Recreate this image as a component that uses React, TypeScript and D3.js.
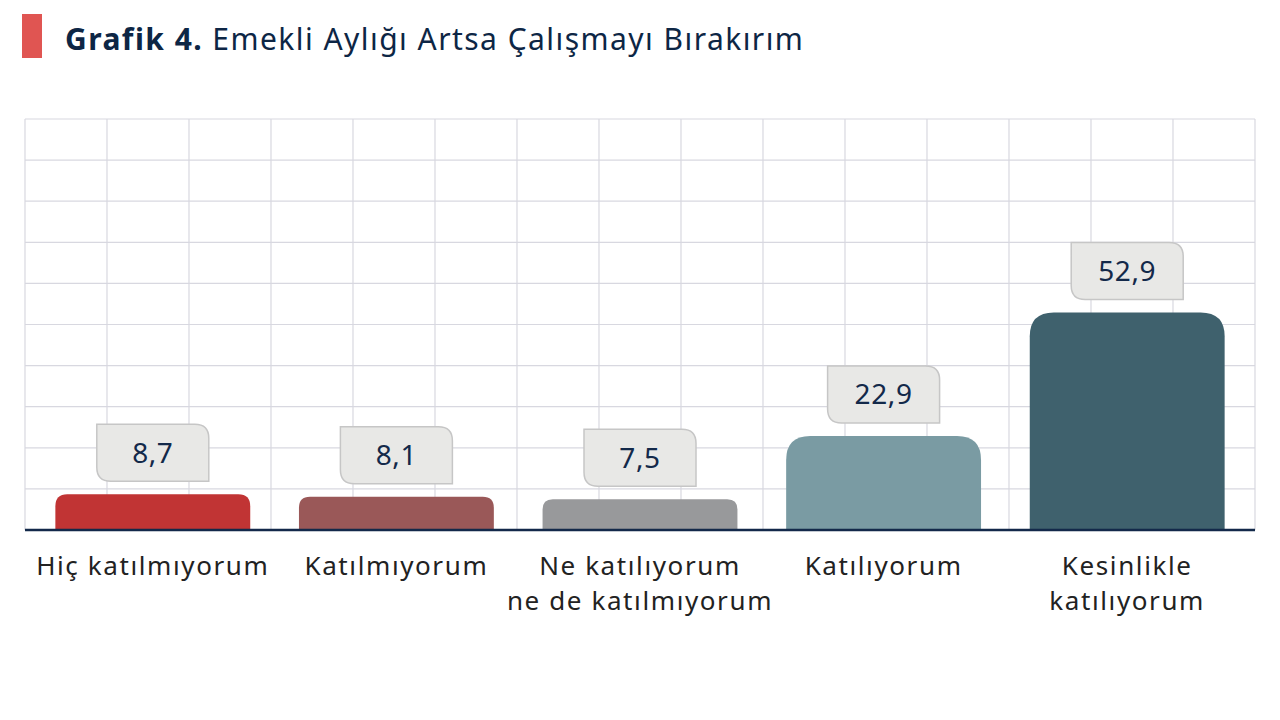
import React from "react";
import * as d3 from "d3";

const categories: string[][] = [
  ["Hiç katılmıyorum"],
  ["Katılmıyorum"],
  ["Ne katılıyorum", "ne de katılmıyorum"],
  ["Katılıyorum"],
  ["Kesinlikle", "katılıyorum"],
];
const values: number[] = [8.7, 8.1, 7.5, 22.9, 52.9];
const barColors: string[] = ["#c13434", "#9a5858", "#98999b", "#7a9ba3", "#3f616d"];
const yTicks: number[] = d3.range(0, 101, 10);

const W = 1280;
const H = 720;
const plotLeft = 25;
const plotRight = 1255;
const plotTop = 119;
const plotBottom = 530;
const FONT = "'Noto Sans', sans-serif";

function barPath(x: number, y: number, w: number, h: number, r: number) {
  const rr = Math.min(r, h, w / 2);
  return `M${x},${y + h} L${x},${y + rr} Q${x},${y} ${x + rr},${y} L${x + w - rr},${y} Q${x + w},${y} ${x + w},${y + rr} L${x + w},${y + h} Z`;
}

function boxPath(x: number, y: number, w: number, h: number, r: number) {
  // sharp top-left & bottom-right, rounded top-right & bottom-left
  return `M${x},${y} L${x + w - r},${y} Q${x + w},${y} ${x + w},${y + r} L${x + w},${y + h} L${x + r},${y + h} Q${x},${y + h} ${x},${y + h - r} Z`;
}

export default function App() {
  const y = d3.scaleLinear().domain([0, 100]).range([plotBottom, plotTop]);
  const x = d3
    .scaleBand<number>()
    .domain(values.map((_, i) => i))
    .range([31, 1249])
    .paddingInner(0.2)
    .paddingOuter(0.1);
  const gridX = d3.range(0, 16).map((i) => plotLeft + ((plotRight - plotLeft) / 15) * i);
  const fmt = (v: number) => v.toFixed(1).replace(".", ",");
  const boxW = 112;
  const boxH = 57;

  return (
    <svg width={W} height={H} style={{ display: "block", position: "absolute", left: 0, top: 0, background: "#fff" }}>
      <rect x={0} y={0} width={W} height={H} fill="#fff" />
      {/* title */}
      <rect x={22} y={14} width={20} height={44} fill="#e05552" />
      <text x={65} y={50} fontFamily={FONT} fontSize={30} fill="#0d2645" letterSpacing={1.45}>
        <tspan fontWeight={700}>Grafik 4.</tspan>
        <tspan fontWeight={400}> Emekli Aylığı Artsa Çalışmayı Bırakırım</tspan>
      </text>
      {/* grid */}
      <g stroke="#d8d8e0" strokeWidth={1.2}>
        {yTicks.map((t) => (
          <line key={"h" + t} x1={plotLeft} x2={plotRight} y1={y(t)} y2={y(t)} />
        ))}
        {gridX.map((gx, i) => (
          <line key={"v" + i} x1={gx} x2={gx} y1={plotTop} y2={plotBottom} />
        ))}
      </g>
      {/* bars */}
      {values.map((v, i) => {
        const bx = x(i)!;
        const bw = x.bandwidth();
        const top = y(v);
        const h = plotBottom - top;
        const r = Math.min(24, h / 3);
        const cx = bx + bw / 2;
        const boxBottom = top - 13;
        return (
          <g key={i}>
            <path d={barPath(bx, top, bw, h, r)} fill={barColors[i]} />
            <path
              d={boxPath(cx - boxW / 2, boxBottom - boxH, boxW, boxH, 14)}
              fill="#e8e8e6"
              stroke="#c6c6c6"
              strokeWidth={1.5}
            />
            <text
              x={cx}
              y={boxBottom - boxH / 2 + 10}
              textAnchor="middle"
              fontFamily={FONT}
              fontSize={28}
              letterSpacing={0.6}
              fill="#13294a"
            >
              {fmt(v)}
            </text>
            {categories[i].map((line, j) => (
              <text
                key={j}
                x={cx}
                y={575 + j * 35}
                textAnchor="middle"
                fontFamily={FONT}
                fontSize={26}
                letterSpacing={1.6}
                fill="#222"
              >
                {line}
              </text>
            ))}
          </g>
        );
      })}
      {/* axis line */}
      <line x1={plotLeft} x2={plotRight} y1={plotBottom} y2={plotBottom} stroke="#13294a" strokeWidth={2.5} />
    </svg>
  );
}
